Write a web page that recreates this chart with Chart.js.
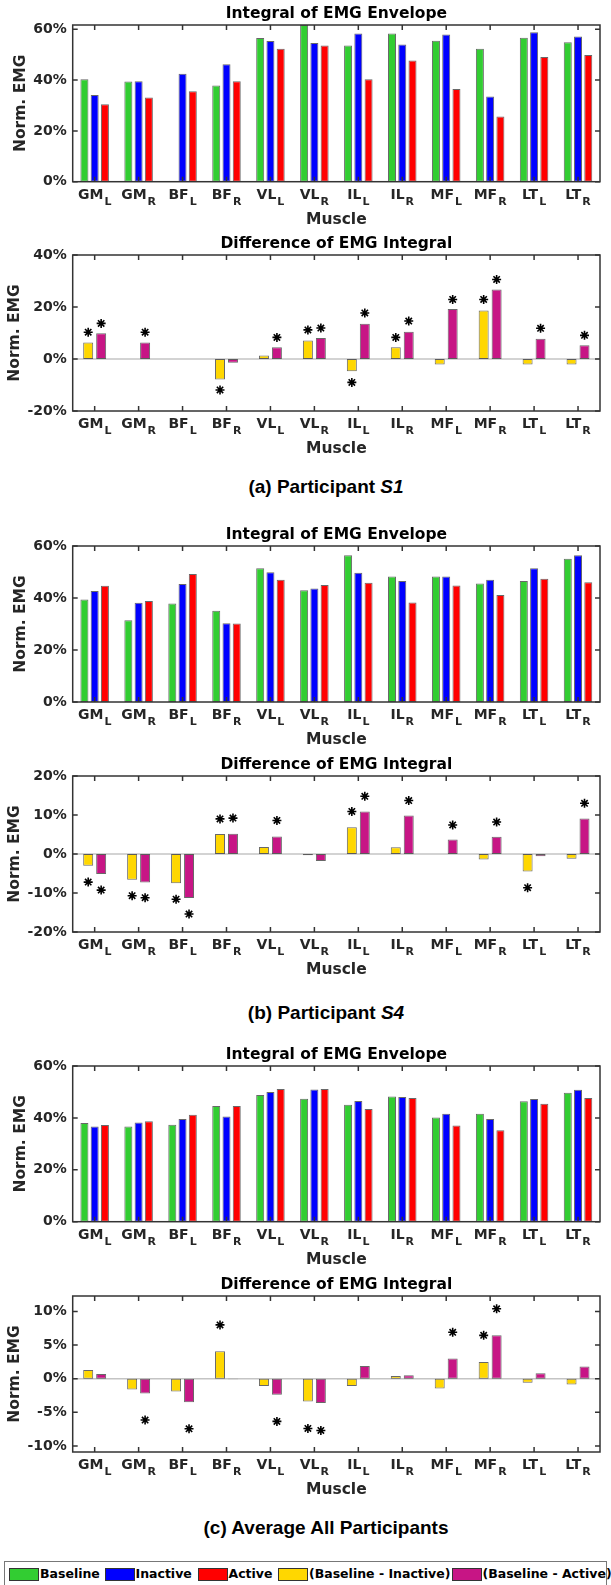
<!DOCTYPE html>
<html>
<head>
<meta charset="utf-8">
<script src="https://cdn.jsdelivr.net/npm/chart.js@4.4.1/dist/chart.umd.min.js"></script>
<style>
  html, body { margin: 0; padding: 0; background: #fff; }
  body { width: 611px; height: 1585px; position: relative; overflow: hidden; }
  canvas.panel { position: absolute; left: 0; }
  .caption { position: absolute; left: 26px; width: 600px; text-align: center;
    font: bold 19px "Liberation Sans", Arial, sans-serif; color: #000; line-height: 24px; }
  #legend { position: absolute; left: 4px; top: 1561px; width: 603px; height: 26px;
    border: 1.3px solid #777; box-sizing: border-box; background: #fff; }
  .sw { position: absolute; top: 6px; width: 28px; height: 11px; border: 1px solid #333; }
  .lt { position: absolute; top: 4px; font: bold 12.5px "DejaVu Sans", sans-serif; color: #000; line-height: 15px; white-space: nowrap; }
</style>
</head>
<body>
<div class="caption" style="top:475px">(a) Participant <i>S1</i></div>
<div class="caption" style="top:1001px">(b) Participant <i>S4</i></div>
<div class="caption" style="top:1516px">(c) Average All Participants</div>
<div id="legend"></div>

<script>
// muscles (name + side subscript)
const muscleNames = ['GM', 'GM', 'BF', 'BF', 'VL', 'VL', 'IL', 'IL', 'MF', 'MF', 'LT', 'LT'];
const muscleSides = ['L', 'R', 'L', 'R', 'L', 'R', 'L', 'R', 'L', 'R', 'L', 'R'];
const seriesNames = ['Baseline', 'Inactive', 'Active', '(Baseline - Inactive)', '(Baseline - Active)'];

// participant S1
const s1Baseline = [40.3, 39.5, null, 37.9, 56.6, 61.7, 53.6, 58.4, 55.5, 52.3, 56.7, 54.9];
const s1Inactive = [34.1, 39.6, 42.5, 46.2, 55.4, 54.6, 58.4, 54.0, 58.0, 33.5, 58.8, 57.2];
const s1Active = [30.5, 33.2, 35.6, 39.6, 52.3, 53.6, 40.3, 47.7, 36.5, 25.7, 49.1, 49.9];
const s1DiffInactive = [6.3, null, null, -7.9, 1.3, 7.1, -4.7, 4.5, -2.1, 18.7, -2.1, -2.1];
const s1DiffActive = [9.9, 6.3, null, -1.4, 4.5, 8.1, 13.6, 10.5, 19.2, 26.7, 7.8, 5.3];
const s1StarInactive = [10.3, null, null, -11.9, null, 11.2, -9.0, 8.3, null, 22.9, null, null];
const s1StarActive = [13.7, 10.3, null, null, 8.3, 11.9, 17.7, 14.6, 22.9, 30.6, 11.8, 9.1];

// participant S4
const s4Baseline = [39.4, 31.4, 37.9, 35.1, 51.4, 43.0, 56.4, 48.3, 48.3, 45.6, 46.5, 55.1];
const s4Inactive = [42.7, 38.2, 45.4, 30.3, 49.9, 43.7, 49.7, 46.5, 48.3, 47.0, 51.4, 56.4];
const s4Active = [44.7, 38.8, 49.2, 30.2, 47.0, 45.0, 45.9, 38.3, 44.8, 41.2, 47.4, 46.1];
const s4DiffInactive = [-3.0, -6.6, -7.5, 5.1, 1.8, -0.35, 6.85, 1.7, null, -1.4, -4.5, -1.2];
const s4DiffActive = [-5.1, -7.3, -11.3, 5.2, 4.5, -1.8, 10.9, 9.85, 3.7, 4.4, -0.6, 9.1];
const s4StarInactive = [-7.2, -10.7, -11.6, 9.0, null, null, 10.9, null, null, null, -8.65, null];
const s4StarActive = [-9.25, -11.2, -15.4, 9.2, 8.6, null, 14.8, 13.7, 7.45, 8.2, null, 13.0];

// average of all participants
const avgBaseline = [38.0, 36.7, 37.4, 44.6, 48.8, 47.4, 45.1, 48.2, 40.2, 41.6, 46.4, 49.7];
const avgInactive = [36.7, 38.2, 39.6, 40.5, 50.0, 50.9, 46.5, 48.1, 41.6, 39.6, 47.3, 50.8];
const avgActive = [37.3, 38.7, 41.2, 44.6, 51.1, 51.1, 43.4, 47.7, 37.1, 35.2, 45.5, 47.7];
const avgDiffInactive = [1.3, -1.6, -1.9, 4.1, -1.1, -3.4, -1.1, 0.4, -1.45, 2.5, -0.6, -0.85];
const avgDiffActive = [0.7, -2.2, -3.5, -0.08, -2.4, -3.6, 1.9, 0.5, 3.0, 6.45, 0.8, 1.8];
const avgStarInactive = [null, null, null, 8.0, null, -7.4, null, null, null, 6.45, null, null];
const avgStarActive = [null, -6.15, -7.45, null, -6.35, -7.7, null, null, 6.9, 10.4, null, null];

// y tick labels
const integralTicks = [0, 20, 40, 60];
const s1DiffTicks = [-20, 0, 20, 40];
const s4DiffTicks = [-20, -10, 0, 10, 20];
const avgDiffTicks = [-10, -5, 0, 5, 10];

const colors = ['#32cd32', '#0000ff', '#ff0000', '#ffd700', '#c71585'];
const fontFam = '"DejaVu Sans", sans-serif';

const panels = [
  { kind: 'int', top: 25, bottom: 181.7, min: 0, max: 61.7, ticks: integralTicks,
    series: [s1Baseline, s1Inactive, s1Active] },
  { kind: 'diff', top: 255, bottom: 411, min: -20, max: 40, ticks: s1DiffTicks,
    series: [s1DiffInactive, s1DiffActive], stars: [s1StarInactive, s1StarActive] },
  { kind: 'int', top: 545.7, bottom: 701.7, min: 0, max: 60, ticks: integralTicks,
    series: [s4Baseline, s4Inactive, s4Active] },
  { kind: 'diff', top: 775.7, bottom: 931.7, min: -20, max: 20, ticks: s4DiffTicks,
    series: [s4DiffInactive, s4DiffActive], stars: [s4StarInactive, s4StarActive] },
  { kind: 'int', top: 1066, bottom: 1221.7, min: 0, max: 60, ticks: integralTicks,
    series: [avgBaseline, avgInactive, avgActive] },
  { kind: 'diff', top: 1295.7, bottom: 1451.7, min: -10.9, max: 12.3, ticks: avgDiffTicks,
    series: [avgDiffInactive, avgDiffActive], stars: [avgStarInactive, avgStarActive] }
];

function drawStar(ctx, x, y, r) {
  const d = r * 0.7071;
  ctx.beginPath();
  ctx.moveTo(x - r, y); ctx.lineTo(x + r, y);
  ctx.moveTo(x, y - r); ctx.lineTo(x, y + r);
  ctx.moveTo(x - d, y - d); ctx.lineTo(x + d, y + d);
  ctx.moveTo(x - d, y + d); ctx.lineTo(x + d, y - d);
  ctx.stroke();
}

function decorPlugin(p) {
  return {
    id: 'decor',
    beforeDatasetsDraw(chart) {
      if (p.kind !== 'diff') return;
      const ctx = chart.ctx, a = chart.chartArea;
      const y0 = chart.scales.y.getPixelForValue(0);
      ctx.save();
      ctx.strokeStyle = '#c4c4c4';
      ctx.lineWidth = 1.5;
      ctx.beginPath();
      ctx.moveTo(a.left, y0); ctx.lineTo(a.right, y0);
      ctx.stroke();
      ctx.restore();
    },
    afterDraw(chart) {
      const ctx = chart.ctx, a = chart.chartArea;
      const xs = chart.scales.x, ys = chart.scales.y;
      ctx.save();
      // box and inner ticks
      ctx.strokeStyle = '#333';
      ctx.lineWidth = 1.5;
      ctx.strokeRect(a.left, a.top, a.right - a.left, a.bottom - a.top);
      ctx.beginPath();
      for (let i = 0; i < muscleNames.length; i++) {
        const px = xs.getPixelForValue(i);
        ctx.moveTo(px, a.bottom); ctx.lineTo(px, a.bottom - 5);
        ctx.moveTo(px, a.top); ctx.lineTo(px, a.top + 5);
      }
      p.ticks.forEach(function(v) {
        const py = ys.getPixelForValue(v);
        ctx.moveTo(a.left, py); ctx.lineTo(a.left + 5, py);
        ctx.moveTo(a.right, py); ctx.lineTo(a.right - 5, py);
      });
      ctx.stroke();

      // significance asterisks
      if (p.stars) {
        ctx.strokeStyle = '#000';
        ctx.lineWidth = 1.6;
        p.stars.forEach(function(arr, d) {
          const meta = chart.getDatasetMeta(d);
          arr.forEach(function(v, j) {
            if (v === null) return;
            drawStar(ctx, meta.data[j].x, ys.getPixelForValue(v), 4.5);
          });
        });
      }

      // title
      const cx = (a.left + a.right) / 2;
      ctx.fillStyle = '#000';
      ctx.textAlign = 'center';
      ctx.textBaseline = 'middle';
      ctx.font = 'bold 15.5px ' + fontFam;
      ctx.fillText(p.kind === 'int' ? 'Integral of EMG Envelope' : 'Difference of EMG Integral', cx, a.top - 11);

      // x tick labels with subscripts
      ctx.fillStyle = '#262626';
      ctx.textAlign = 'left';
      for (let i = 0; i < muscleNames.length; i++) {
        const px = xs.getPixelForValue(i);
        ctx.font = 'bold 14px ' + fontFam;
        const w1 = ctx.measureText(muscleNames[i]).width;
        ctx.font = 'bold 11px ' + fontFam;
        const w2 = ctx.measureText(muscleSides[i]).width;
        const x0 = px - (w1 + w2 + 1) / 2;
        ctx.font = 'bold 14px ' + fontFam;
        ctx.fillText(muscleNames[i], x0, a.bottom + 13.5);
        ctx.font = 'bold 11px ' + fontFam;
        ctx.fillText(muscleSides[i], x0 + w1 + 1, a.bottom + 20.5);
      }
      ctx.textAlign = 'center';
      ctx.font = 'bold 15.5px ' + fontFam;
      ctx.fillText('Muscle', cx, a.bottom + 38);

      // y axis title placed left of the widest tick label
      ctx.font = 'bold 14px ' + fontFam;
      let maxW = 0;
      p.ticks.forEach(function(v) { maxW = Math.max(maxW, ctx.measureText(v + '%').width); });
      const tx = a.left - 6 - maxW - 12.7;
      ctx.translate(tx, (a.top + a.bottom) / 2);
      ctx.rotate(-Math.PI / 2);
      ctx.font = 'bold 15.5px ' + fontFam;
      ctx.fillText('Norm. EMG', 0, 0);
      ctx.restore();
    }
  };
}

panels.forEach(function(p) {
  const frameH = p.bottom - p.top;
  const H = Math.round(30 + frameH + 50);
  const canvas = document.createElement('canvas');
  canvas.className = 'panel';
  canvas.width = 611;
  canvas.height = H;
  canvas.style.top = (p.top - 30) + 'px';
  document.body.appendChild(canvas);

  const cols = p.kind === 'int' ? colors.slice(0, 3) : colors.slice(3);
  const names = p.kind === 'int' ? seriesNames.slice(0, 3) : seriesNames.slice(3);
  const datasets = p.series.map(function(s, k) {
    return {
      label: names[k],
      data: s,
      backgroundColor: cols[k],
      borderColor: 'rgba(40,40,40,0.7)',
      borderWidth: 1,
      borderSkipped: false,
      categoryPercentage: p.kind === 'int' ? 0.70 : 0.59,
      barPercentage: p.kind === 'int' ? 0.78 : 0.77
    };
  });

  new Chart(canvas, {
    type: 'bar',
    data: {
      labels: muscleNames.map(function(n, i) { return n + muscleSides[i]; }),
      datasets: datasets
    },
    options: {
      responsive: false,
      animation: false,
      devicePixelRatio: 1,
      layout: { padding: { left: 0, right: 11, top: 30, bottom: H - 30 - frameH } },
      plugins: { legend: { display: false }, tooltip: { enabled: false }, title: { display: false } },
      scales: {
        x: {
          offset: true,
          ticks: { display: false },
          grid: { display: false, drawTicks: false },
          border: { display: false },
          afterFit: function(s) { s.height = 0; }
        },
        y: {
          min: p.min,
          max: p.max,
          afterBuildTicks: function(s) { s.ticks = p.ticks.map(function(v) { return { value: v }; }); },
          afterFit: function(s) { s.width = 72.7; },
          ticks: {
            padding: 6,
            color: '#262626',
            font: { family: fontFam, size: 14, weight: 'bold' },
            callback: function(v) { return v + '%'; }
          },
          grid: { display: false, drawTicks: false },
          border: { display: false }
        }
      }
    },
    plugins: [decorPlugin(p)]
  });
});

// shared legend
const legend = document.getElementById('legend');
const swatchLeft = [4, 99.5, 192.5, 273, 446.5];
seriesNames.forEach(function(name, i) {
  const sw = document.createElement('div');
  sw.className = 'sw';
  sw.style.left = swatchLeft[i] + 'px';
  sw.style.background = colors[i];
  legend.appendChild(sw);
  const t = document.createElement('div');
  t.className = 'lt';
  t.style.left = (swatchLeft[i] + 31) + 'px';
  t.textContent = name;
  legend.appendChild(t);
});
</script>
</body>
</html>
